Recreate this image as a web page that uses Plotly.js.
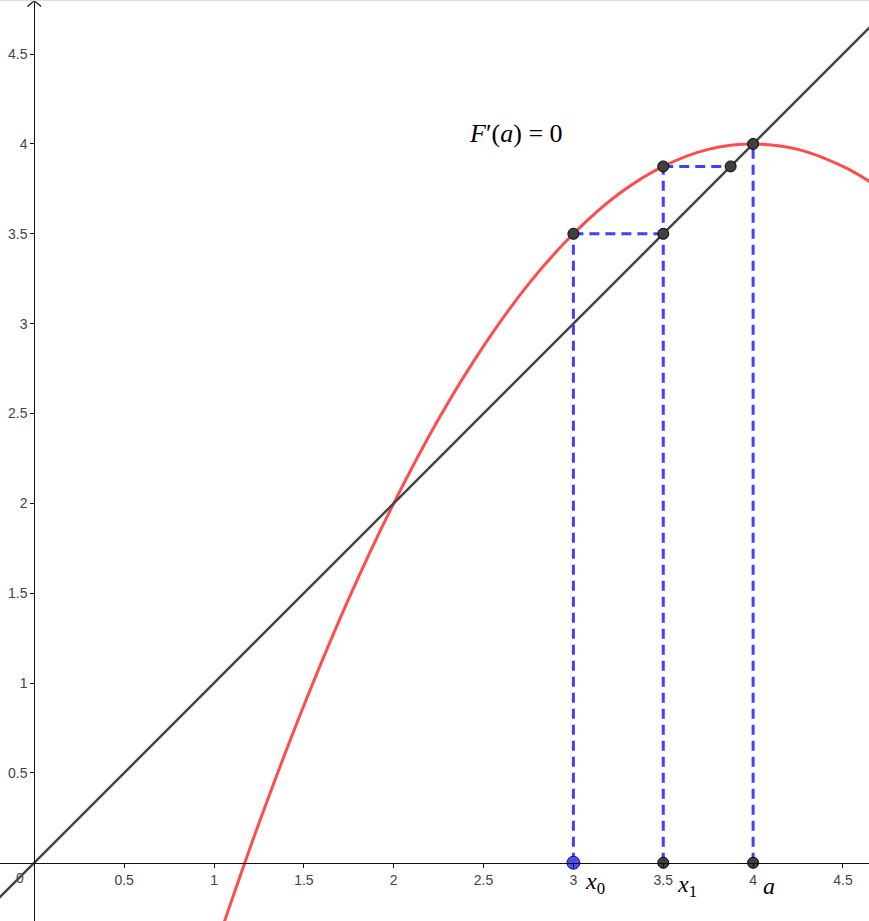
<!DOCTYPE html>
<html>
<head>
<meta charset="utf-8">
<script src="https://cdn.plot.ly/plotly-3.0.1.min.js"></script>
<style>html,body{margin:0;padding:0;background:#fff;}#plot{width:869px;height:921px;}</style>
</head>
<body>
<div id="plot"></div>
<script>
// Red curve F(x)
const curveX = [1.05, 1.25, 1.5, 1.75, 2, 2.25, 2.5, 2.75, 3, 3.25, 3.5, 3.75, 4, 4.25, 4.5, 4.65];
const curveY = [-0.35, 0.22, 0.875, 1.47, 2.0, 2.47, 2.875, 3.22, 3.5, 3.72, 3.875, 3.97, 4.0, 3.97, 3.875, 3.79];
// Diagonal line y = x endpoints
const diagX = [-0.2, 4.7];
const diagY = [-0.2, 4.7];
// Dashed cobweb segments (null separates)
const dashX = [3, 3, null, 3, 3.5, null, 3.5, 3.5, null, 3.5, 3.875, null, 4, 4];
const dashY = [0, 3.5, null, 3.5, 3.5, null, 0, 3.875, null, 3.875, 3.875, null, 0, 4];
// Dark points
const ptX = [3, 3.5, 3.5, 3.875, 4, 3.5, 4];
const ptY = [3.5, 3.5, 3.875, 3.875, 4, 0, 0];
// Blue point x0
const bluePtX = [3];
const bluePtY = [0];
// Tick values / labels
const xTickVals = [0.5, 1, 1.5, 2, 2.5, 3, 3.5, 4, 4.5];
const xTickText = ["0.5", "1", "1.5", "2", "2.5", "3", "3.5", "4", "4.5"];
const yTickVals = [0.5, 1, 1.5, 2, 2.5, 3, 3.5, 4, 4.5];
const yTickText = ["0.5", "1", "1.5", "2", "2.5", "3", "3.5", "4", "4.5"];
// Text labels
const labelText = ["<i>F</i>′(<i>a</i>) = 0", "<i>x</i><sub>0</sub>", "<i>x</i><sub>1</sub>", "<i>a</i>"];
const labelX = [2.68, 3.12, 3.63, 4.09];
const labelY = [4.06, -0.115, -0.13, -0.13];

const xr = [-0.191, 4.645], yr = [-0.324, 4.801];

const traces = [
  {x: curveX, y: curveY, mode: 'lines', line: {color: 'rgb(255,77,77)', width: 3, shape: 'spline', smoothing: 1}, hoverinfo: 'skip'},
  {x: diagX, y: diagY, mode: 'lines', line: {color: 'rgb(68,68,68)', width: 2.5}, hoverinfo: 'skip'},
  {x: dashX, y: dashY, mode: 'lines', line: {color: 'rgb(64,64,255)', width: 3, dash: '10px,6px'}, connectgaps: false, hoverinfo: 'skip'},
  {x: ptX, y: ptY, mode: 'markers', marker: {size: 11, color: 'rgb(64,64,64)', line: {color: '#000', width: 1}}, cliponaxis: false, hoverinfo: 'skip'},
  {x: bluePtX, y: bluePtY, mode: 'markers', marker: {size: 13, color: 'rgb(77,77,255)', line: {color: '#1a1a40', width: 1}}, cliponaxis: false, hoverinfo: 'skip'}
];

const annotations = labelText.map((t, i) => ({
  x: labelX[i], y: labelY[i], xref: 'x', yref: 'y', text: t, showarrow: false,
  font: {family: 'Liberation Serif, DejaVu Serif, serif', size: i === 0 ? 26 : 24, color: '#000'}
}));
annotations.push({x: 0, y: 0, xref: 'x', yref: 'y', text: '0', showarrow: false, xshift: -14, yshift: -15,
  font: {family: 'Liberation Sans, Arial, sans-serif', size: 14, color: '#444'}});

const layout = {
  width: 869, height: 921,
  margin: {l: 0, r: 0, t: 0, b: 0, pad: 0},
  paper_bgcolor: '#fff', plot_bgcolor: '#fff',
  showlegend: false,
  font: {family: 'Liberation Sans, Arial, sans-serif', size: 14, color: '#444'},
  xaxis: {
    range: xr, anchor: 'free', position: (0 - yr[0]) / (yr[1] - yr[0]),
    showgrid: false, zeroline: false, showline: true, linecolor: '#111', linewidth: 1,
    ticks: 'outside', ticklen: 4, tickcolor: '#111', tickwidth: 1,
    tickmode: 'array', tickvals: xTickVals, ticktext: xTickText,
    tickfont: {size: 14, color: '#444'}, fixedrange: true
  },
  yaxis: {
    range: yr, anchor: 'free', position: (0 - xr[0]) / (xr[1] - xr[0]),
    showgrid: false, zeroline: false, showline: true, linecolor: '#111', linewidth: 1,
    ticks: 'outside', ticklen: 4, tickcolor: '#111', tickwidth: 1,
    tickmode: 'array', tickvals: yTickVals, ticktext: yTickText,
    tickfont: {size: 14, color: '#444'}, fixedrange: true
  },
  shapes: [
    {type: 'path', xref: 'x', yref: 'y', path: 'M -0.038,4.765 L 0,4.797 L 0.038,4.765', line: {color: '#111', width: 1.2}},
    {type: 'line', xref: 'paper', yref: 'paper', x0: 0, x1: 1, y0: 0.9995, y1: 0.9995, line: {color: '#ddd', width: 1.5}}
  ],
  annotations: annotations
};

Plotly.newPlot('plot', traces, layout, {displayModeBar: false, staticPlot: true});
</script>
</body>
</html>
